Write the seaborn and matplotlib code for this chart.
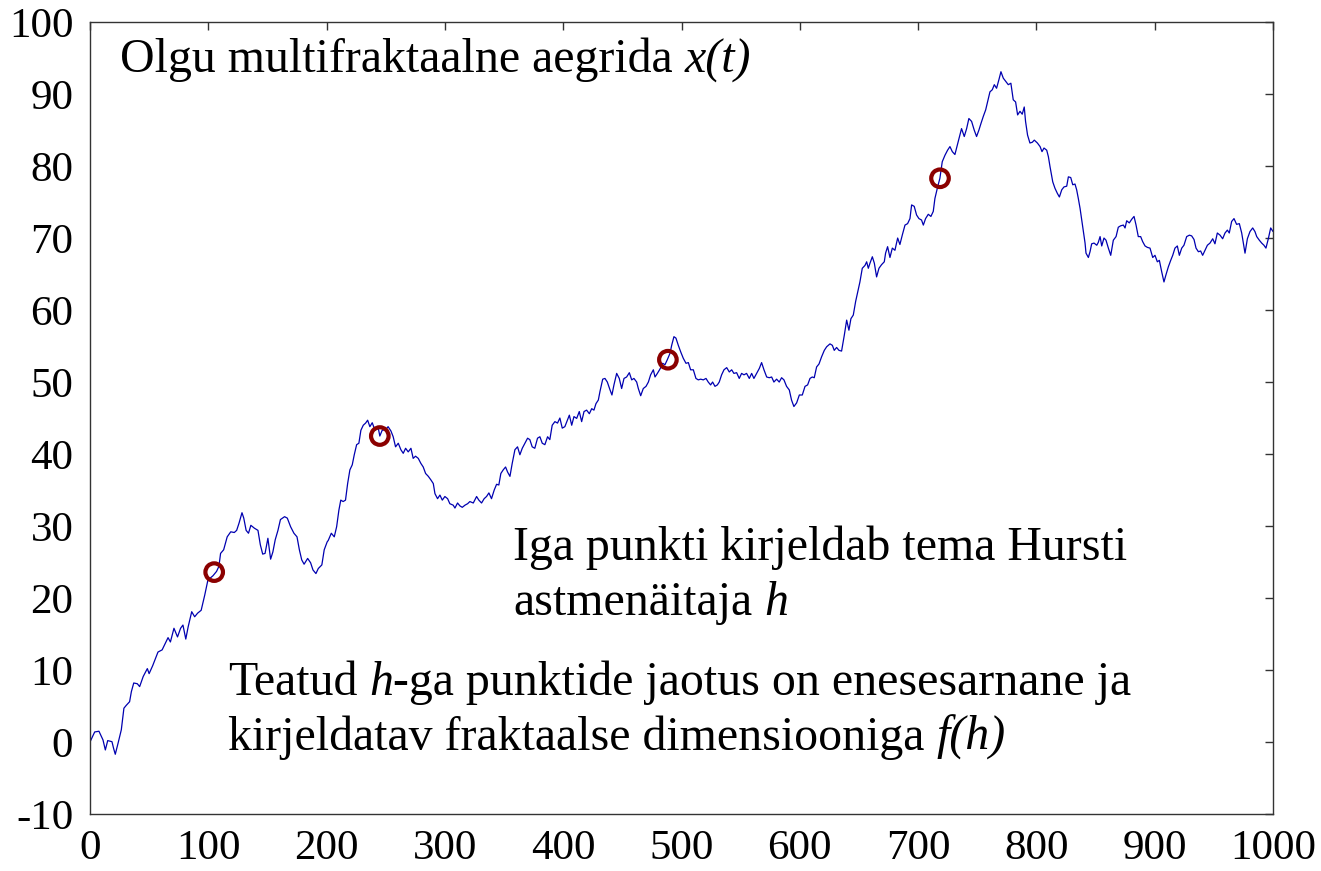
import matplotlib
matplotlib.use("Agg")
import matplotlib.pyplot as plt
import matplotlib.transforms as mtransforms
import seaborn as sns
import pandas as pd

# Time series x(t), sampled points (t, value) in five stretches of the record
seg_a = [(0, 0.0), (4, 1.4), (7.6, 1.5), (11, 0.3), (13, -1.1), (15, 0.2), (18.6, 0.05), (20, -0.9),
         (21.4, -1.7), (23.7, -0.2), (26.5, 1.7), (28.7, 4.7), (30.7, 5.1), (33.5, 5.6), (35, 7.0),
         (37, 8.2), (40, 8.1), (42, 7.7), (45, 9.1), (48.5, 10.2), (50, 9.5), (53, 10.6), (57.5, 12.5),
         (61, 12.8), (63.7, 13.7), (66, 14.5), (68, 13.9), (71, 15.8), (74, 14.6), (76.6, 15.8),
         (78.6, 16.25), (81, 14.3), (83, 16.0), (86, 18.1), (88.5, 17.4), (91, 17.9), (94, 18.3),
         (97, 20.4), (99.7, 22.5), (104, 23.1), (107, 23.7), (109, 24.4), (110.4, 26.2), (113, 26.7),
         (116, 28.5), (119, 29.2), (122, 29.1), (124, 29.4), (126, 30.4), (128.5, 31.85), (130, 31.1),
         (132, 29.4), (134, 29.0), (136, 30.1), (139, 29.7), (142, 29.4), (144, 27.4), (146, 26.1),
         (148, 26.2), (150.4, 28.3), (152.7, 25.4), (154.6, 26.4), (156.6, 28.1), (158.9, 29.4),
         (161, 30.9), (164.5, 31.3), (166.8, 31.1), (169.6, 29.9), (172.4, 29.0), (175, 28.5),
         (177, 26.7), (179, 25.3), (181, 24.7), (184, 25.5), (186.5, 24.9), (188.5, 23.9), (191, 23.4),
         (193, 24.1), (196, 24.6), (198, 26.7), (200.5, 27.8)]

seg_b = [(201.4, 28.0), (204, 29.0), (206.5, 28.5), (208.5, 29.9), (210.4, 32.2), (212, 33.6),
         (214, 33.4), (216, 33.6), (217.8, 35.9), (219.7, 37.8), (221.7, 38.5), (223.4, 39.9),
         (225.4, 41.3), (227.3, 41.5), (229, 43.3), (231, 44.0), (233, 44.3), (234.7, 44.7),
         (236.6, 43.8), (238.6, 44.35), (240.9, 43.3), (243.7, 43.6), (245, 42.5), (247, 43.3),
         (250, 43.4), (252, 43.8), (254.4, 43.2), (256.3, 42.4), (258.3, 41.0), (260.6, 41.5),
         (262.8, 40.6), (264.8, 40.1), (266.8, 40.8), (269, 40.3), (271.3, 40.8), (273.2, 39.4),
         (275.2, 39.7), (277.5, 39.4), (279.7, 38.7), (281.7, 38.2), (283.7, 37.3), (286, 36.9),
         (288.2, 36.4), (290.2, 35.9), (291.6, 34.5), (293.8, 33.8), (295.8, 34.3), (297.8, 33.6),
         (300, 34.1), (302.3, 33.8), (304.2, 33.1), (307, 32.9), (308.5, 32.5), (310.7, 33.2),
         (312.7, 32.8), (314.7, 32.6), (317, 32.9), (319.2, 33.1), (321.1, 33.4), (324, 33.2),
         (326.8, 34.1), (328.7, 33.6), (331, 33.2), (333.2, 33.8), (335.2, 34.1), (337.2, 34.6),
         (339.4, 33.8), (341.7, 35.0), (343.7, 35.8), (345.6, 35.7), (347.3, 37.3), (349.3, 37.8),
         (351.3, 38.2), (353, 37.5), (355, 36.9), (356.9, 38.7), (359.2, 40.6), (361.4, 41.0),
         (363.4, 39.9), (365.4, 40.8), (367.6, 41.5), (369.9, 42.2), (371.8, 42.0), (373.8, 41.0),
         (376, 40.8), (378.3, 42.2), (380.3, 42.4), (382.3, 41.5), (384.5, 41.3), (386.8, 42.4),
         (388.7, 42.0), (390.7, 44.0), (393, 44.5), (395.2, 44.3), (397.2, 45.0), (399.2, 43.6),
         (401.4, 43.8)]

seg_c = [(403.5, 44.7), (405.2, 45.4), (407.2, 44.0), (409.1, 45.2), (411.4, 44.95), (413.6, 45.9),
         (415.6, 44.5), (417.6, 45.9), (419.8, 46.1), (422.1, 45.6), (424.1, 46.3), (426, 46.1),
         (427.7, 47.0), (429.7, 47.5), (431.1, 48.7), (433.4, 50.4), (435.3, 50.5), (437.3, 50.0),
         (439.6, 48.9), (441.2, 48.2), (442.9, 49.6), (445.2, 51.2), (447.4, 50.5), (449.4, 49.1),
         (451.4, 50.5), (453.6, 50.7), (455.9, 51.3), (457.9, 50.3), (459.8, 50.5), (462.1, 50.0),
         (463.5, 49.1), (465.5, 48.1), (467.7, 49.1), (470, 49.4), (472, 50.0), (473.9, 51.0),
         (476.2, 51.7), (477.6, 50.7), (479.6, 51.2), (481.8, 51.8), (484.1, 52.6), (486, 52.4),
         (488, 53.1), (490.3, 54.0), (491.7, 55.1), (493.6, 56.3), (495.3, 56.1), (497.3, 55.1),
         (499.3, 54.2), (501.5, 53.3), (503.8, 52.6), (505.8, 52.7), (507.7, 51.7), (510, 51.7),
         (512.2, 50.5), (514.2, 50.3), (516.2, 50.4), (518.4, 50.3), (520.7, 50.5), (522.6, 50.0),
         (524.6, 49.6), (526.3, 50.0), (528.3, 49.4), (530.3, 49.6), (531.9, 50.0), (533.9, 51.0),
         (535.9, 51.7), (538.2, 52.0), (540.4, 51.4), (542.4, 51.7), (544.3, 51.2), (546.6, 51.3),
         (548.8, 50.5), (550.8, 51.2), (552.8, 51.0), (555, 51.2), (557.3, 50.5), (559.3, 51.2),
         (561.2, 50.5), (563.5, 51.2), (565.8, 51.9), (567.7, 52.7), (569.7, 51.7), (572, 50.7),
         (574.2, 50.6), (576.2, 50.7), (578.1, 50.0), (580.4, 50.4), (582.6, 50.0), (584.6, 50.6),
         (586.6, 50.3), (588.8, 49.4), (591.1, 48.9), (593, 47.5), (595, 46.6), (597.3, 47.1),
         (599.6, 48.2)]

seg_d = [(602.1, 48.2), (604.4, 49.4), (606.6, 49.6), (608.6, 50.5), (610.5, 50.7), (612.2, 50.6),
         (614.2, 52.1), (616.2, 52.5), (618.4, 53.5), (620.7, 54.4), (622.7, 54.9), (625.5, 55.3),
         (627.5, 55.1), (629.1, 54.4), (631.1, 54.8), (633.1, 54.4), (635.3, 54.3), (637.6, 56.5),
         (639.6, 58.6), (641.5, 57.2), (643.2, 58.8), (645.2, 59.3), (647.2, 61.2), (648.9, 62.5),
         (650.8, 63.9), (652.8, 65.8), (655.1, 66.2), (656.5, 66.7), (657.9, 65.8), (659.3, 66.5),
         (661.3, 67.4), (663, 66.5), (664.9, 64.6), (666.9, 65.8), (669.1, 66.3), (671.4, 66.7),
         (672.5, 67.9), (674.2, 68.8), (676.2, 67.3), (678.2, 68.6), (680.4, 68.3), (682.7, 70.0),
         (684.6, 69.1), (686.6, 70.4), (688.9, 71.8), (691.1, 72.0), (693.1, 72.7), (694.5, 74.6),
         (696.7, 74.4), (698.7, 73.2), (700.7, 72.7), (702.9, 72.5), (704.4, 71.8), (706.3, 72.7),
         (708.6, 73.3), (710.8, 73.0), (712.8, 73.7), (714.2, 75.5), (716.5, 77.1), (718.4, 78.3),
         (720.4, 80.6), (722.7, 81.5), (724.9, 82.2), (726.9, 82.7), (728.9, 82.0), (731.1, 81.6),
         (733.4, 83.1), (735.3, 84.3), (736.7, 85.2), (739, 84.1), (741, 85.2), (742.9, 86.6),
         (745.2, 86.2), (747.4, 85.0), (749.4, 84.1), (751.4, 85.0), (753.1, 85.9), (755.1, 86.9),
         (757.1, 87.8), (758.7, 88.9), (760.7, 90.3), (762.7, 90.6), (764.4, 91.3), (766.3, 90.8),
         (768.3, 92.0), (770, 93.1), (772, 92.2), (773.9, 91.8), (776.2, 91.3), (778.4, 91.5),
         (780.4, 89.2), (782.4, 88.9), (784.1, 87.1), (786.1, 87.6), (788, 87.2), (789.7, 88.2),
         (790.8, 86.2), (792.5, 84.3), (794.5, 83.2), (796.5, 83.3), (798.2, 83.6)]

seg_e = [(800.8, 83.2), (803.1, 82.7), (804.7, 82.0), (806.4, 82.5), (808.7, 82.2), (810.1, 81.3),
         (811.5, 79.9), (813.8, 77.8), (815.7, 76.9), (817.7, 76.2), (819.4, 75.7), (821.4, 76.7),
         (823.3, 77.1), (825.6, 77.2), (827, 78.5), (829, 78.4), (830.7, 77.4), (832.6, 77.5),
         (834, 76.7), (835.4, 75.5), (836.9, 74.1), (838.3, 72.5), (839.7, 70.9), (841.1, 69.3),
         (841.9, 67.9), (843.9, 67.3), (845.3, 68.1), (846.7, 69.2), (848.7, 69.3), (851, 69.0),
         (852.3, 69.4), (853.8, 70.2), (855.2, 68.9), (857.1, 70.0), (858.8, 69.7), (860.8, 68.6),
         (862.8, 67.6), (865, 69.7), (867.3, 70.2), (869.2, 71.5), (871.2, 71.7), (873.5, 71.8),
         (874.9, 71.4), (876.3, 72.4), (878.5, 72.1), (880.5, 72.6), (882.5, 73.0), (884.2, 71.8),
         (886.1, 70.2), (888.1, 70.2), (889.8, 69.5), (891.8, 68.9), (893.8, 68.7), (896, 68.6),
         (898.3, 67.3), (900.2, 67.6), (902.2, 66.7), (903.9, 66.9), (905.9, 65.3), (907.8, 63.9),
         (909.5, 64.9), (911.5, 66.0), (913.5, 66.9), (915.2, 67.6), (917.1, 68.6), (919.1, 68.9),
         (920.8, 67.6), (922.8, 68.6), (924.7, 69.0), (927, 70.2), (929.3, 70.4), (931.2, 70.3),
         (933.2, 69.8), (934.9, 68.6), (936.9, 68.1), (938.8, 68.2), (940.5, 67.6), (942.5, 68.3),
         (944.5, 69.0), (946.7, 69.3), (949, 69.9), (950.9, 69.2), (952.9, 70.7), (955.2, 70.4),
         (957.4, 69.9), (959.4, 70.7), (961.4, 71.1), (963, 70.7), (965, 72.3), (967, 72.7),
         (969.2, 71.9), (971.5, 72.0), (973.5, 70.7), (974.9, 69.3), (976.3, 67.9), (978.3, 69.9),
         (980.5, 70.9), (982.8, 71.4), (984.7, 70.9), (986.2, 70.2), (988.4, 69.7), (990.4, 69.3),
         (992.3, 69.0), (994, 68.6), (996, 69.9), (998, 71.4), (1000, 70.9)]

# Highlighted points on the series
marked_t = [105, 245, 488.5, 718.5]
marked_x = [23.6, 42.5, 53.1, 78.3]

x_ticks = [0, 100, 200, 300, 400, 500, 600, 700, 800, 900, 1000]
y_ticks = [-10, 0, 10, 20, 30, 40, 50, 60, 70, 80, 90, 100]

# Annotation lines as runs of (text, style); "italic" marks the symbols
line_title = [("Olgu multifraktaalne aegrida", "normal"), (" ", "normal"), ("x(t)", "italic")]
line_hurst_1 = [("Iga punkti kirjeldab tema Hursti", "normal")]
line_hurst_2 = [("astmenäitaja", "normal"), (" ", "normal"), ("h", "italic")]
line_dim_1 = [("Teatud", "normal"), (" ", "normal"), ("h", "italic"),
              ("-ga punktide jaotus on enesesarnane ja", "normal")]
line_dim_2 = [("kirjeldatav fraktaalse dimensiooniga", "normal"), (" ", "normal"), ("f(h)", "italic")]

sns.set_style("white")
plt.rcParams["font.family"] = ["Liberation Serif", "DejaVu Serif"]
plt.rcParams["axes.unicode_minus"] = False
plt.rcParams["text.color"] = "black"

series = pd.DataFrame(seg_a + seg_b + seg_c + seg_d + seg_e, columns=["t", "x"])
points = pd.DataFrame({"t": marked_t, "x": marked_x})

fig = plt.figure(figsize=(13.21, 8.71), dpi=100)
ax = fig.add_axes([0.0681, 0.0654, 0.8956, 0.9093])

sns.lineplot(data=series, x="t", y="x", ax=ax, color="#0000b0", linewidth=0.9,
             sort=False, estimator=None)
sns.scatterplot(data=points, x="t", y="x", ax=ax, s=160, marker="o",
                facecolor="none", edgecolor="#8b0000", linewidth=3.0, zorder=5)

ax.set_xlim(0, 1000)
ax.set_ylim(-10, 100)
ax.set_xticks(x_ticks)
ax.set_yticks(y_ticks)
ax.set_xlabel("")
ax.set_ylabel("")
ax.tick_params(direction="in", length=6, width=1, colors="#333333",
               top=True, right=True, labelsize=31, labelcolor="black")
ax.tick_params(axis="x", pad=11)
ax.tick_params(axis="y", pad=12)
for side in ax.spines.values():
    side.set_visible(True)
    side.set_color("#333333")
    side.set_linewidth(1.0)

fs = 34.5
renderer = fig.canvas.get_renderer()


def text_width(s, style):
    probe = ax.text(0, 0, s, fontsize=fs, fontstyle=style)
    w = probe.get_window_extent(renderer).width
    probe.remove()
    return w


space_w = text_width("a a", "normal") - text_width("aa", "normal")


def draw_runs(x, y, runs):
    dx = 0.0
    for s, style in runs:
        if s == " ":
            dx += space_w
            continue
        tr = mtransforms.offset_copy(ax.transData, fig=fig, x=dx, y=0, units="dots")
        t = ax.text(x, y, s, transform=tr, fontsize=fs, fontstyle=style,
                    va="baseline", ha="left", color="black")
        dx += t.get_window_extent(renderer).width


draw_runs(25.4, 93.0, line_title)
draw_runs(357.6, 25.3, line_hurst_1)
draw_runs(357.6, 17.6, line_hurst_2)
draw_runs(116.7, 6.5, line_dim_1)
draw_runs(116.7, -1.1, line_dim_2)

fig.savefig("out.png", dpi=100)
